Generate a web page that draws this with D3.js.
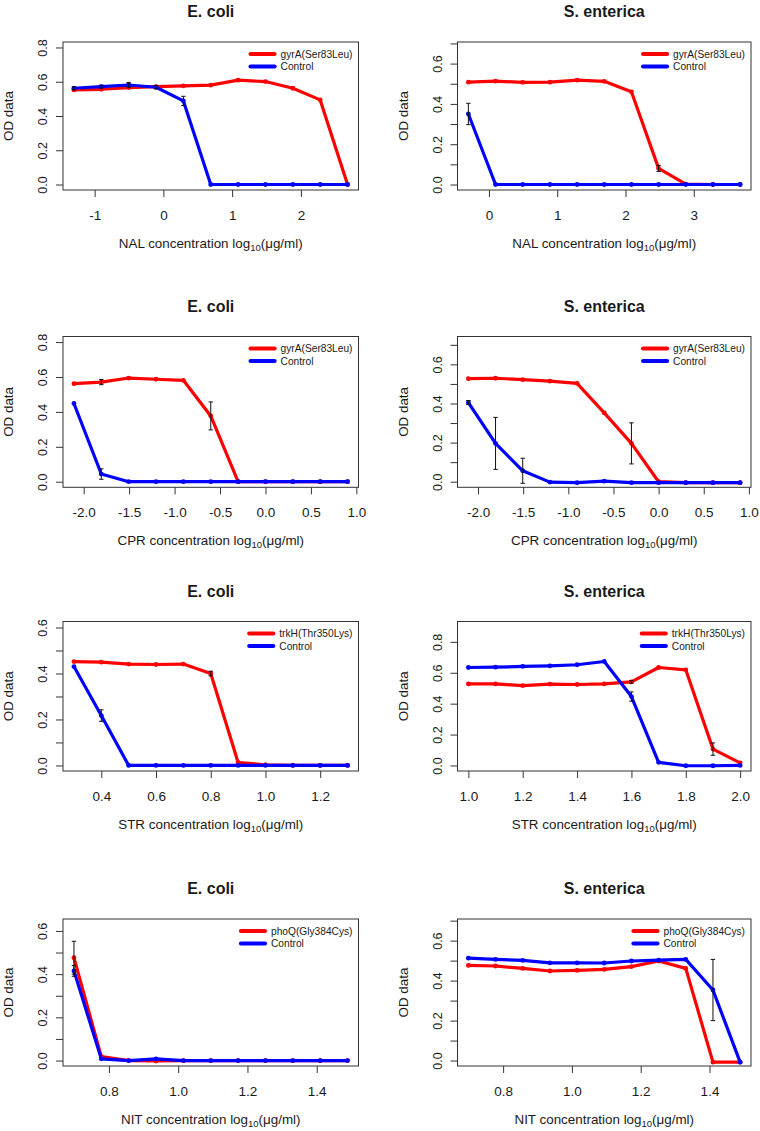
<!DOCTYPE html>
<html><head><meta charset="utf-8">
<script src="https://cdn.jsdelivr.net/npm/d3@7"></script>
<style>
body{margin:0;background:#fff}
svg{display:block}
text{font-family:"Liberation Sans",Arial,Helvetica,sans-serif;fill:#1a1a1a}
</style>
</head><body><svg id="c" width="760" height="1131"></svg>
<script>
// ---------------- DATA ----------------
const nalEcoliX = [-1.301,-0.903,-0.505,-0.107,0.291,0.689,1.087,1.485,1.883,2.281,2.679];
const nalEcoliMut = [0.552,0.556,0.566,0.572,0.576,0.580,0.609,0.601,0.562,0.494,0.000];
const nalEcoliMutErr = [0.006,0.006,0.006,0.005,0.005,0.005,0.005,0.005,0.005,0.006,0.000];
const nalEcoliCtrl = [0.562,0.572,0.581,0.568,0.488,0.000,0.000,0.000,0.000,0.000,0.000];
const nalEcoliCtrlErr = [0.008,0.008,0.015,0.010,0.027,0,0,0,0,0,0];

const nalSentX = [-0.301,0.097,0.495,0.893,1.291,1.689,2.087,2.485,2.883,3.281,3.679];
const nalSentMut = [0.508,0.513,0.507,0.508,0.518,0.512,0.460,0.080,0.002,0.000,0.000];
const nalSentMutErr = [0.005,0.005,0.005,0.005,0.005,0.005,0.006,0.015,0,0,0];
const nalSentCtrl = [0.350,0.000,0.000,0.000,0.000,0.000,0.000,0.000,0.000,0.000,0.000];
const nalSentCtrlErr = [0.053,0,0,0,0,0,0,0,0,0,0];

const cprX = [-2.107,-1.806,-1.505,-1.204,-0.903,-0.602,-0.301,0.000,0.301,0.602,0.903];
const cprEcoliMut = [0.562,0.571,0.594,0.587,0.581,0.377,0.000,0.000,0.000,0.000,0.000];
const cprEcoliMutErr = [0.006,0.015,0.006,0.006,0.006,0.080,0,0,0,0,0];
const cprEcoliCtrl = [0.448,0.044,0.000,0.000,0.000,0.000,0.000,0.000,0.000,0.000,0.000];
const cprEcoliCtrlErr = [0.005,0.030,0,0,0,0,0,0,0,0,0];

const cprSentMut = [0.527,0.529,0.522,0.514,0.503,0.352,0.196,0.000,-0.005,-0.005,-0.005];
const cprSentMutErr = [0.005,0.005,0.005,0.005,0.005,0.005,0.105,0,0,0,0];
const cprSentCtrl = [0.405,0.196,0.056,-0.002,-0.005,0.003,-0.005,-0.005,-0.005,-0.005,-0.005];
const cprSentCtrlErr = [0.010,0.133,0.064,0,0,0,0,0,0,0,0];

const strEcoliX = [0.3,0.4,0.5,0.6,0.7,0.8,0.9,1.0,1.1,1.2,1.3];
const strEcoliMut = [0.452,0.449,0.441,0.439,0.441,0.400,0.013,0.003,0.000,0.000,0.000];
const strEcoliMutErr = [0.005,0.005,0.005,0.005,0.005,0.010,0.003,0,0,0,0];
const strEcoliCtrl = [0.430,0.217,0.000,0.000,0.000,0.000,0.000,0.000,0.000,0.000,0.000];
const strEcoliCtrlErr = [0.005,0.025,0,0,0,0,0,0,0,0,0];

const strSentX = [1.0,1.1,1.2,1.3,1.4,1.5,1.6,1.7,1.8,1.9,2.0];
const strSentMut = [0.528,0.528,0.517,0.526,0.524,0.528,0.541,0.634,0.619,0.106,0.017];
const strSentMutErr = [0.005,0.005,0.005,0.005,0.005,0.005,0.008,0.006,0.006,0.040,0.005];
const strSentCtrl = [0.634,0.636,0.641,0.645,0.652,0.673,0.446,0.020,-0.002,-0.002,0.000];
const strSentCtrlErr = [0.005,0.005,0.005,0.005,0.005,0.005,0.030,0.005,0,0,0];

const nitX = [0.699,0.778,0.857,0.936,1.015,1.094,1.173,1.252,1.331,1.410,1.489];
const nitEcoliMut = [0.476,0.018,0.000,-0.002,0.000,0.000,0.000,0.000,0.000,0.000,0.000];
const nitEcoliMutErr = [0.076,0.005,0,0,0,0,0,0,0,0,0];
const nitEcoliCtrl = [0.415,0.008,0.000,0.008,0.000,0.000,0.000,0.000,0.000,0.000,0.000];
const nitEcoliCtrlErr = [0.025,0,0,0,0,0,0,0,0,0,0];

const nitSentMut = [0.476,0.473,0.461,0.448,0.451,0.456,0.470,0.498,0.461,-0.008,-0.008];
const nitSentMutErr = [0.005,0.005,0.005,0.005,0.005,0.005,0.005,0.005,0.005,0,0];
const nitSentCtrl = [0.512,0.506,0.501,0.489,0.489,0.488,0.498,0.502,0.506,0.353,-0.008];
const nitSentCtrlErr = [0.005,0.005,0.005,0.005,0.005,0.005,0.005,0.005,0.005,0.153,0];

// tick labels
const ticksNalEcoli = [-1,0,1,2];
const ticksNalSent = [0,1,2,3];
const ticksCpr = [-2.0,-1.5,-1.0,-0.5,0.0,0.5,1.0];
const ticksStrEcoli = [0.4,0.6,0.8,1.0,1.2];
const ticksStrSent = [1.0,1.2,1.4,1.6,1.8,2.0];
const ticksNit = [0.8,1.0,1.2,1.4];
const yTicksStep2_08 = [0,0.2,0.4,0.6,0.8];
const yTicksStep1_07 = [0,0.1,0.2,0.3,0.4,0.5,0.6,0.7];
const yTicksStep1_06 = [0,0.1,0.2,0.3,0.4,0.5,0.6];
const yLabels_08 = [0,0.2,0.4,0.6,0.8];
const yLabels_06 = [0,0.2,0.4,0.6];

const titles = ["E. coli","S. enterica"];
const drugs = ["NAL","CPR","STR","NIT"];
const mutantNames = ["gyrA(Ser83Leu)","gyrA(Ser83Leu)","trkH(Thr350Lys)","phoQ(Gly384Cys)"];
const controlName = "Control";
const yLimits = [0.8,0.68,0.8,0.714,0.602,0.896,0.63,0.681];

// ---------------- LAYOUT ----------------
const colBox = [[63,358.5],[457.5,751]];
const rowBox = [[42,190],[336.5,487.3],[621.5,771],[919,1066]];
const RED = "#ff0000", BLUE = "#0000ff";

const panels = [
 {r:0,c:0,x:nalEcoliX,m:nalEcoliMut,me:nalEcoliMutErr,k:nalEcoliCtrl,ke:nalEcoliCtrlErr,xt:ticksNalEcoli,xf:d3.format("d"),yt:yTicksStep2_08,yl:yLabels_08},
 {r:0,c:1,x:nalSentX,m:nalSentMut,me:nalSentMutErr,k:nalSentCtrl,ke:nalSentCtrlErr,xt:ticksNalSent,xf:d3.format("d"),yt:yTicksStep1_07,yl:yLabels_06},
 {r:1,c:0,x:cprX,m:cprEcoliMut,me:cprEcoliMutErr,k:cprEcoliCtrl,ke:cprEcoliCtrlErr,xt:ticksCpr,xf:d3.format(".1f"),yt:yTicksStep2_08,yl:yLabels_08},
 {r:1,c:1,x:cprX,m:cprSentMut,me:cprSentMutErr,k:cprSentCtrl,ke:cprSentCtrlErr,xt:ticksCpr,xf:d3.format(".1f"),yt:yTicksStep1_07,yl:yLabels_06},
 {r:2,c:0,x:strEcoliX,m:strEcoliMut,me:strEcoliMutErr,k:strEcoliCtrl,ke:strEcoliCtrlErr,xt:ticksStrEcoli,xf:d3.format(".1f"),yt:yTicksStep1_06,yl:yLabels_06},
 {r:2,c:1,x:strSentX,m:strSentMut,me:strSentMutErr,k:strSentCtrl,ke:strSentCtrlErr,xt:ticksStrSent,xf:d3.format(".1f"),yt:yTicksStep2_08,yl:yLabels_08},
 {r:3,c:0,x:nitX,m:nitEcoliMut,me:nitEcoliMutErr,k:nitEcoliCtrl,ke:nitEcoliCtrlErr,xt:ticksNit,xf:d3.format(".1f"),yt:yTicksStep1_06,yl:yLabels_06},
 {r:3,c:1,x:nitX,m:nitSentMut,me:nitSentMutErr,k:nitSentCtrl,ke:nitSentCtrlErr,xt:ticksNit,xf:d3.format(".1f"),yt:yTicksStep1_07,yl:yLabels_06}
];

const svg = d3.select("#c");
const fmtY = d3.format(".1f");
const fmtMinus = f => v => f(v).replace("\u2212","-");

panels.forEach((p,i)=>{
  const [x0,x1] = colBox[p.c], [y0,y1] = rowBox[p.r];
  const ext = d3.extent(p.x), pad = (ext[1]-ext[0])*0.04;
  const xs = d3.scaleLinear().domain([ext[0]-pad, ext[1]+pad]).range([x0,x1]);
  const lim = yLimits[i];
  const ys = d3.scaleLinear().domain([-0.04*lim, 1.04*lim]).range([y1,y0]);
  const g = svg.append("g");

  // title
  g.append("text").attr("x",(x0+x1)/2).attr("y",y0-25).attr("text-anchor","middle")
   .attr("font-size",16).attr("font-weight","bold").text(titles[p.c]);

  // x axis
  const xa = d3.axisBottom(xs).tickValues(p.xt).tickSize(7).tickPadding(6).tickFormat(fmtMinus(p.xf));
  const gx = g.append("g").attr("transform",`translate(0,${y1})`).call(xa);
  gx.select(".domain").remove();
  gx.selectAll("line").attr("stroke","#333");
  gx.selectAll("text").attr("font-size",13.5).attr("fill","#1a1a1a").attr("font-family",null)
    .attr("dy",null).attr("y",null).attr("transform","translate(0,30)");

  // y axis
  const ya = d3.axisLeft(ys).tickValues(p.yt).tickSize(7).tickFormat(v => p.yl.some(l=>Math.abs(l-v)<1e-9) ? fmtY(v) : "");
  const gy = g.append("g").attr("transform",`translate(${x0},0)`).call(ya);
  gy.select(".domain").remove();
  gy.selectAll("line").attr("stroke","#333");
  gy.selectAll(".tick text").attr("font-size",12.5).attr("fill","#1a1a1a").attr("font-family",null)
    .attr("x",null).attr("dy",null).attr("text-anchor","middle")
    .attr("transform","translate(-16,0) rotate(-90)");

  // axis titles
  g.append("text").attr("transform",`translate(${x0-50},${(y0+y1)/2}) rotate(-90)`)
   .attr("text-anchor","middle").attr("font-size",13.4).text("OD data");
  const xt = g.append("text").attr("x",(x0+x1)/2).attr("y",y1+58).attr("text-anchor","middle").attr("font-size",13.4);
  xt.append("tspan").text(drugs[p.r]+" concentration log");
  xt.append("tspan").attr("font-size",9.5).attr("dy",3).text("10");
  xt.append("tspan").attr("dy",-3).text("(\u03bcg/ml)");

  // box
  g.append("rect").attr("x",x0).attr("y",y0).attr("width",x1-x0).attr("height",y1-y0)
   .attr("fill","none").attr("stroke","#333").attr("stroke-width",1);

  const line = d3.line().x(d=>xs(d[0])).y(d=>ys(d[1]));
  const series = [[p.m,p.me,RED],[p.k,p.ke,BLUE]];
  series.forEach(([vals,errs,col])=>{
    const pts = p.x.map((xv,j)=>[xv,vals[j],errs[j]]);
    g.append("path").attr("d",line(pts)).attr("fill","none").attr("stroke",col)
     .attr("stroke-width",3.2).attr("stroke-linejoin","round").attr("stroke-linecap","round");
    g.selectAll(null).data(pts).enter().append("circle")
     .attr("cx",d=>xs(d[0])).attr("cy",d=>ys(d[1])).attr("r",2.4).attr("fill",col);
  });
  series.forEach(([vals,errs])=>{
    const pts = p.x.map((xv,j)=>[xv,vals[j],errs[j]]).filter(d=>d[2]>0.0075);
    const eg = g.append("g").attr("stroke","#111").attr("stroke-width",1);
    pts.forEach(d=>{
      const cx = xs(d[0]), ya_ = ys(d[1]+d[2]), yb = ys(d[1]-d[2]);
      eg.append("line").attr("x1",cx).attr("x2",cx).attr("y1",ya_).attr("y2",yb);
      eg.append("line").attr("x1",cx-2.2).attr("x2",cx+2.2).attr("y1",ya_).attr("y2",ya_);
      eg.append("line").attr("x1",cx-2.2).attr("x2",cx+2.2).attr("y1",yb).attr("y2",yb);
    });
  });

  // legend
  const names = [mutantNames[p.r], controlName], cols = [RED,BLUE];
  const t0 = g.append("text").attr("font-size",10.2).text(names[0]);
  const w = t0.node().getComputedTextLength();
  const tx = x1 - 6 - w;
  t0.remove();
  names.forEach((nm,j)=>{
    const ly = y0 + 12 + j*12.5;
    g.append("line").attr("x1",tx-30).attr("x2",tx-6).attr("y1",ly).attr("y2",ly)
     .attr("stroke",cols[j]).attr("stroke-width",4.2).attr("stroke-linecap","round");
    g.append("text").attr("x",tx).attr("y",ly+3.6).attr("font-size",10.2).text(nm);
  });
});
</script>
</body></html>
